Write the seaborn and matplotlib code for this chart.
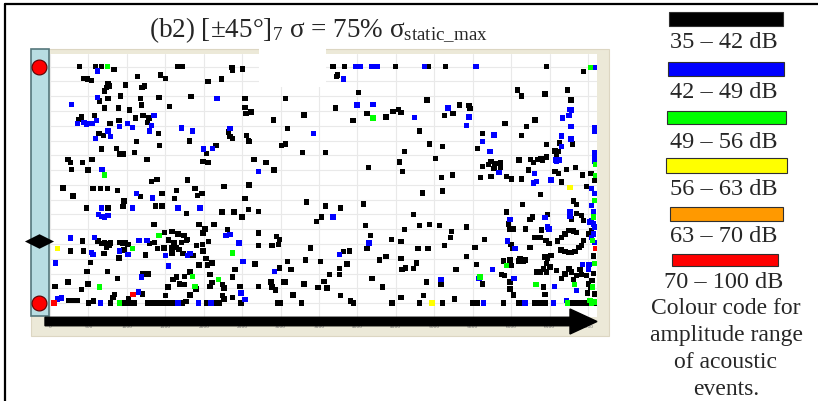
import matplotlib
matplotlib.use("Agg")
import matplotlib.pyplot as plt
import matplotlib.patches as mpatches
import matplotlib.transforms as mtransforms
from matplotlib.lines import Line2D
from matplotlib.path import Path
import numpy as np
import pandas as pd
import seaborn as sns

# acoustic events: (time in s, location in mm between the two sensors)
events_35_42 = [
    (386, 80.0), (589, 80.0), (667, 80.0), (832, 79.0), (1655, 80.0), (1716, 80.0), (442, 76.0), (485, 75.8),
    (537, 75.4), (754, 74.3), (732, 73.0), (776, 73.5), (711, 71.8), (1135, 76.6), (1439, 77.2), (1499, 76.1),
    (984, 73.8), (1231, 73.5), (1196, 73.0), (919, 70.1), (754, 69.2), (646, 68.4), (1179, 69.2), (1417, 69.6),
    (711, 66.0), (893, 66.0), (1036, 65.3), (1187, 67.0), (1556, 66.5), (581, 63.4), (407, 63.0), (373, 62.2),
    (1109, 62.6), (1209, 63.4), (1287, 62.6), (780, 60.8), (897, 61.7), (1265, 61.1), (1413, 57.4), (637, 57.4),
    (698, 56.8), (1122, 54.6), (667, 52.1), (862, 52.3), (906, 50.4), (949, 50.4), (1101, 50.9), (1426, 53.4),
    (1261, 48.7), (234, 48.7), (269, 47.6), (420, 47.6), (546, 48.7), (277, 45.3), (494, 45.0), (1317, 41.1),
    (1391, 41.8),
    (2366, 79.7), (2375, 78.9), (2505, 79.2), (2058, 74.9), (2232, 75.8), (1833, 69.9), (2539, 69.2), (3068, 69.2),
    (2539, 66.2), (2548, 64.2), (2617, 64.7), (2908, 62.0), (3306, 63.6), (1811, 54.9), (2323, 57.9), (2344, 56.3),
    (2375, 55.7), (2557, 56.8), (2583, 54.9), (2591, 54.6), (3090, 59.1), (2158, 53.4), (2037, 50.7), (3016, 53.4),
    (3068, 53.8), (3285, 50.9), (1993, 47.9), (2058, 47.6), (2656, 48.7), (2808, 47.6), (2916, 45.1), (1790, 41.7),
    (2591, 40.0), (2266, 39.5),
    (3683, 80.0), (3831, 80.0), (4494, 80.0), (4927, 80.0), (5144, 80.0), (3727, 76.6), (3744, 77.2), (4017, 71.3),
    (3714, 66.0), (4125, 64.2), (3943, 61.7), (4372, 63.0), (4463, 64.8), (4537, 65.6), (4567, 64.5), (4905, 68.7),
    (5326, 67.0), (5131, 63.4), (5243, 64.2), (4806, 58.2), (3584, 50.9), (4615, 51.3), (4940, 53.8), (5109, 53.0),
    (5014, 49.0), (4550, 47.8), (4143, 45.8), (4589, 44.5), (5092, 42.5), (5239, 43.3),
    (6461, 80.0), (6938, 78.4), (6084, 72.1), (6136, 70.1), (6439, 70.7), (6734, 72.1), (6777, 68.7), (5451, 66.8),
    (5464, 65.9), (5919, 60.8), (6309, 62.0), (6201, 59.7), (5625, 57.4), (6136, 56.8), (5560, 52.4), (6461, 53.6),
    (6626, 54.2), (6799, 53.8), (6569, 51.5), (6613, 51.3), (6591, 50.2), (5625, 46.2), (5703, 47.0), (5737, 47.9),
    (5789, 47.3), (5863, 47.6), (5863, 46.1), (5776, 45.5), (6101, 48.4), (6253, 48.7), (6288, 47.6), (6344, 48.6),
    (6387, 49.0), (6409, 48.4), (6461, 49.5), (6223, 45.1), (5603, 42.5), (5737, 42.9), (5941, 42.9), (6006, 42.0),
    (6136, 42.0), (6569, 44.5), (6613, 43.9), (6721, 45.3), (6838, 45.9), (6925, 43.4), (7037, 43.9), (6656, 41.0),
    (6981, 39.5), (7089, 41.4),
    (169, 39.0), (559, 38.7), (659, 38.7), (745, 38.7), (875, 38.1), (1179, 36.1), (1456, 37.0), (1642, 38.1),
    (1621, 35.3), (299, 36.2), (962, 34.5), (949, 32.7), (1369, 32.8), (1456, 32.8), (1772, 30.4), (472, 32.2),
    (754, 32.2), (1352, 26.5), (1491, 23.8), (1586, 24.2), (1664, 23.4), (1742, 22.9), (420, 21.0), (624, 21.0),
    (676, 20.1), (711, 20.3), (745, 20.1), (789, 20.3), (732, 18.9), (776, 19.5), (906, 20.6), (949, 20.3),
    (984, 20.3), (1014, 19.8), (1296, 20.1), (1361, 20.6), (1395, 18.4), (1482, 18.6), (1543, 21.4), (1612, 20.3),
    (1707, 20.6), (1772, 21.4), (1586, 18.9), (1642, 18.9), (269, 17.6), (438, 17.6), (702, 16.7), (962, 18.0),
    (897, 15.3), (1239, 16.3), (1586, 17.0), (1677, 18.1), (1729, 16.7), (1785, 16.1), (529, 13.7), (481, 10.8),
    (745, 10.7), (875, 8.4), (1209, 9.9), (1274, 9.9), (1599, 8.0), (1642, 8.8), (1751, 9.1), (65, 5.7),
    (234, 7.1), (494, 6.5), (407, 4.6), (1534, 5.4), (1686, 6.5), (1751, 6.3), (1499, 2.5), (1200, 3.1),
    (819, 2.0), (841, 2.9), (243, 0.9), (299, 0.9), (355, 0.9), (503, 0.0), (568, 0.7), (789, 0.0),
    (962, 0.0), (1005, 0.0), (1049, 0.0), (1101, 0.0), (1265, 0.0), (1309, 0.0), (1352, 0.0), (1426, 0.0),
    (1469, 0.0), (1512, 0.0), (1556, 0.0), (1599, 0.0), (1716, 0.0), (1023, 1.4),
    (1889, 38.7), (1920, 36.4), (1976, 37.0), (2539, 35.5), (3337, 34.2), (2236, 30.8), (2396, 30.8), (2583, 31.6),
    (2713, 31.1), (2496, 29.1), (3536, 29.1), (3471, 27.7), (1941, 26.6), (2019, 25.1), (1993, 23.7), (2136, 26.5),
    (2310, 24.9), (2713, 23.7), (2947, 22.5), (2990, 21.5), (3393, 18.6), (1790, 21.5), (2063, 20.9), (1907, 19.5),
    (1985, 19.8), (2713, 19.5), (2886, 19.5), (2973, 19.8), (1993, 17.6), (1863, 16.1), (2028, 15.0), (1941, 12.9),
    (2050, 12.9), (2106, 13.6), (2669, 13.2), (3090, 14.1), (3328, 14.6), (3523, 14.1), (2409, 11.3), (2990, 11.9),
    (3137, 11.3), (1820, 10.5), (2080, 9.6), (2375, 8.8), (2080, 5.7), (2106, 6.9), (2245, 6.3), (2266, 5.1),
    (2470, 5.7), (1898, 4.8), (2713, 5.7), (2873, 7.1), (2886, 5.4), (2938, 4.5), (3046, 7.1), (3068, 7.1),
    (3306, 6.5), (3488, 5.2), (3566, 7.3), (1820, 2.8), (2245, 2.6), (2266, 1.4), (2375, 2.0), (3163, 2.8),
    (1768, 0.5), (2037, 0.0), (2063, 0.0), (2149, 0.0), (2201, 0.0), (2483, 0.0), (2960, 0.0), (3003, 0.0),
    (3272, 0.0),
    (4849, 37.3), (5109, 37.9), (4082, 33.6), (3584, 32.8), (3779, 32.2), (4732, 29.9), (4104, 26.3), (4615, 24.9),
    (4806, 26.3), (4940, 26.6), (5066, 26.3), (5222, 24.2), (5209, 22.3), (4169, 22.9), (4442, 21.5), (4567, 20.9),
    (4125, 18.4), (4788, 18.4), (4918, 18.4), (5135, 19.5), (3822, 17.5), (3900, 17.6), (4372, 15.8), (4290, 14.6),
    (4567, 15.0), (4767, 13.6), (3766, 11.8), (3865, 13.2), (4580, 11.3), (4628, 11.9), (4732, 11.8), (5282, 11.3),
    (3640, 9.6), (3766, 9.6), (4190, 8.4), (4897, 7.1), (5087, 6.5), (3605, 5.1), (4329, 5.4), (3779, 2.5),
    (4567, 2.0), (4862, 2.5), (5265, 1.4), (3909, 0.7), (3952, 0.0), (4450, 0.0), (4806, 0.0), (5109, 0.0),
    (6383, 36.8), (6149, 33.4), (6808, 34.5), (6851, 33.4), (6851, 30.4), (6786, 28.5), (6916, 29.7), (6938, 28.0),
    (5941, 30.8), (5963, 26.8), (5984, 25.1), (6028, 25.1), (6279, 29.1), (6244, 28.2), (6470, 30.0), (6188, 25.1),
    (6396, 24.8), (5421, 25.7), (5651, 21.5), (5997, 19.8), (6015, 18.4), (5529, 18.9), (5421, 15.8), (6244, 18.9),
    (6301, 22.3), (6374, 22.3), (6452, 21.2), (6491, 20.1), (6604, 21.0), (6656, 22.3), (6699, 23.4), (6743, 24.6),
    (6808, 24.4), (6851, 23.8), (6647, 18.0), (6699, 17.5), (6743, 17.2), (6786, 17.2), (6829, 17.5), (6881, 18.9),
    (6916, 19.5), (6938, 21.2), (7003, 23.4), (7046, 24.6), (5898, 14.2), (5984, 14.6), (6006, 12.7), (6114, 15.0),
    (6158, 14.2), (6093, 14.2), (6179, 14.6), (5551, 13.1), (5876, 9.7), (5911, 9.3), (5629, 6.5), (5984, 7.1),
    (5984, 4.8), (6028, 2.8), (6331, 10.5), (6374, 10.5), (6418, 11.6), (6461, 10.5), (6504, 12.2), (6474, 15.0),
    (6517, 16.1), (6439, 15.6), (6461, 13.5), (6591, 11.0), (6656, 8.4), (6699, 9.9), (6439, 2.9), (6418, 5.4),
    (6751, 11.6), (6786, 10.5), (6808, 8.0), (6851, 9.3), (6894, 11.3), (6916, 9.7), (6981, 9.3), (7003, 6.5),
    (7037, 5.4), (6994, 3.4), (7068, 16.0), (7068, 10.0), (7054, 7.6), (7089, 3.1), (5495, 0.0), (5564, 0.0),
    (5898, 0.0), (6093, 0.0), (6136, 0.0), (6301, 0.0), (6344, 0.0), (6396, 0.0), (6439, 0.0), (6786, 0.0),
    (6829, 0.0), (6894, 0.0), (6951, 0.0), (7003, 0.0), (7089, 0.0),
]
events_42_49 = [
    (615, 78.6), (615, 69.6), (277, 67.3), (1352, 63.4), (355, 60.8), (442, 61.1), (472, 60.6), (546, 60.8),
    (602, 61.7), (906, 59.7), (1005, 60.8), (1070, 59.4), (1317, 60.2), (1296, 58.2), (1707, 59.2), (754, 58.2),
    (784, 56.3), (594, 55.7), (676, 45.3),
    (2171, 69.2), (1855, 58.2), (2344, 59.1), (3432, 57.5), (2115, 52.4), (1998, 52.1), (2713, 44.5),
    (3974, 80.0), (4039, 80.0), (4190, 80.0), (4255, 80.0), (4875, 80.0), (3822, 75.8), (3995, 67.0), (4203, 67.3),
    (4745, 62.8), (5178, 66.0),
    (5542, 80.0), (7089, 79.7), (5451, 63.0), (5421, 60.0), (6665, 62.6), (6764, 65.6), (6786, 65.4), (6751, 63.4),
    (6777, 59.7), (7089, 59.4), (7089, 58.1), (5776, 56.9), (6656, 56.5), (6777, 55.5), (5625, 54.6), (5724, 51.3),
    (6656, 52.9), (6582, 48.4), (6621, 48.4), (6591, 47.9), (6301, 43.9), (5841, 44.2), (6517, 41.7), (6331, 41.1),
    (6288, 40.6), (7089, 51.0), (7089, 49.8), (7089, 48.1),
    (1122, 37.0), (1330, 35.6), (1070, 32.2), (1664, 32.2), (667, 32.2), (633, 30.0), (676, 29.4), (711, 29.1),
    (754, 29.7), (264, 22.0), (581, 22.3), (1157, 21.2), (1261, 21.2), (537, 17.2), (559, 16.4), (906, 17.6),
    (1014, 16.4), (1499, 16.1), (69, 13.6), (1543, 12.5), (1187, 8.8), (1153, 3.7), (95, 1.4), (147, 1.7),
    (654, 0.0), (1664, 0.0),
    (1950, 32.2), (2288, 22.9), (2344, 23.2), (2461, 20.4), (1820, 16.7), (1790, 16.1), (2513, 14.1), (2925, 10.7),
    (2483, 3.4), (2539, 1.2), (1933, 0.0), (2093, 0.0),
    (3683, 29.1), (4151, 20.4), (3770, 16.4), (5087, 7.9),
    (6764, 30.8), (6764, 29.3), (5984, 28.3), (6439, 28.9), (6474, 25.7), (6491, 25.1), (5954, 21.0), (6049, 18.4),
    (7024, 27.4), (7068, 26.8), (7046, 22.3), (5755, 11.3), (6036, 8.4), (5581, 8.4), (6561, 5.7), (6925, 13.0),
    (7011, 13.1), (7003, 11.6), (6851, 4.3), (7046, 38.7), (7089, 37.0), (7046, 33.0), (7068, 30.8), (7046, 28.0),
    (7089, 25.7), (7068, 23.4), (7089, 20.6), (5638, 0.0), (6179, 0.0), (6548, 0.0), (6721, 0.9),
]
events_49_56 = [
    (745, 80.0), (711, 43.3), (4203, 62.6), (7033, 79.7), (7098, 47.0), (7098, 43.1), (1417, 22.9), (1070, 18.4),
    (646, 5.4), (906, 0.0), (2375, 17.0), (1855, 9.0), (2193, 7.9), (1889, 5.7), (7059, 21.2), (5941, 12.7),
    (5594, 8.8), (6322, 6.3), (6821, 6.3), (7081, 34.7), (7068, 29.1), (7089, 13.3), (7059, 5.4), (7081, 0.4),
    (6734, 0.0), (7024, 0.9), (7046, 0.0),
]
events_56_63 = [(95, 18.4), (4970, 0.0), (6764, 39.2)]
events_63_70 = []
events_70_100 = [(52, 0.0), (1079, 2.9), (7098, 18.4)]

band_labels = ["35 – 42 dB", "42 – 49 dB", "49 – 56 dB", "56 – 63 dB", "63 – 70 dB", "70 – 100 dB"]
band_colours = ["#000000", "#0000FF", "#00FF00", "#FFFF00", "#FF9900", "#FF0000"]
band_events = [events_35_42, events_42_49, events_49_56, events_56_63, events_63_70, events_70_100]

sensor_mm = [0, 80]
marker_mm = 21
time_ticks = np.arange(0, 7001, 500)
loc_grid = np.arange(0, 81, 5)

rows = [(t, y, lab) for lab, pts in zip(band_labels, band_events) for t, y in pts]
df = pd.DataFrame(rows, columns=["time_s", "location_mm", "band"])

sns.set_style("white")
plt.rcParams["font.family"] = ["Liberation Serif", "DejaVu Serif"]
plt.rcParams["mathtext.fontset"] = "custom"
plt.rcParams["mathtext.rm"] = "Liberation Serif"
plt.rcParams["mathtext.it"] = "Liberation Serif:italic"
plt.rcParams["mathtext.default"] = "rm"

W, H = 818, 402
fig = plt.figure(figsize=(W / 100, H / 100), dpi=100)


def box(x0, y0, x1, y1):
    # figure-fraction rectangle from pixel corners (top-left origin)
    return (x0 / W, 1 - y1 / H), (x1 - x0) / W, (y1 - y0) / H


# beige window frame behind the plot
xy, w, h = box(31, 50, 609, 337)
fig.add_artist(mpatches.Rectangle(xy, w, h, transform=fig.transFigure, fc="#ECE9D8", ec="#DCD6C2", lw=0.8, zorder=0))

# sensor bar on the left
xy, w, h = box(31, 50, 49, 317)
fig.add_artist(mpatches.Rectangle(xy, w, h, transform=fig.transFigure, fc="#B8DDE2", ec="#55777C", lw=1.2, zorder=1))

ax = fig.add_axes([50 / W, 1 - 318 / H, 547 / W, 263 / H], zorder=2)
ax.set_facecolor("white")
sns.scatterplot(data=df, x="time_s", y="location_mm", hue="band", hue_order=band_labels,
                palette=dict(zip(band_labels, band_colours)), marker="s", s=15, linewidth=0,
                legend=False, ax=ax, zorder=3)
ax.set_xlim(0, 7117)
ax.set_ylim(-4.7, 84.3)
ax.set_xticks(time_ticks)
ax.set_yticks(loc_grid)
ax.grid(True, color="#E9E9E9", lw=0.8)
ax.set_axisbelow(True)
ax.tick_params(axis="y", length=0, labelleft=False)
ax.tick_params(axis="x", length=0, pad=5, labelsize=3.2, labelcolor="#707070")
for lab in ax.get_xticklabels():
    lab.set_family("DejaVu Sans")
ax.set_xlabel("")
ax.set_ylabel("")
for sp in ax.spines.values():
    sp.set_visible(False)

side = mtransforms.blended_transform_factory(ax.transAxes, ax.transData)
ax.scatter([-0.0192] * len(sensor_mm), sensor_mm, transform=side, s=115, c="#FF0000",
           edgecolors="#5A0000", linewidths=0.8, clip_on=False, zorder=6)
diamond = Path([(-1, 0), (0, 0.5), (1, 0), (0, -0.5), (-1, 0)], [1, 2, 2, 2, 79])
ax.scatter([-0.021], [marker_mm], transform=side, marker=diamond, s=440, c="black",
           linewidths=0, clip_on=False, zorder=6)

# white gap in the frame under the title
xy, w, h = box(259, 48, 326, 88)
fig.add_artist(mpatches.Rectangle(xy, w, h, transform=fig.transFigure, fc="white", ec="none", zorder=4))

# time arrow
fig.add_artist(mpatches.FancyArrow(0.45, (H - 322.5) / 100, 5.52, 0, width=0.085, head_width=0.25,
                                   head_length=0.27, length_includes_head=True, color="black",
                                   transform=fig.dpi_scale_trans, zorder=5))

fig.text(318 / W, 1 - 30 / H, r"(b2) [±45°]$_7$ σ = 75% σ$_{\rm static\_max}$",
         ha="center", va="center", fontsize=19.5)

# outer frame (left and top)
fig.add_artist(Line2D([5 / W, 5 / W], [0, 1 - 5 / H], transform=fig.transFigure, color="black", lw=1.6))
fig.add_artist(Line2D([5 / W, 1], [1 - 5 / H, 1 - 5 / H], transform=fig.transFigure, color="black", lw=1.6))

# colour code
bar_px = [(669, 13, 783, 27), (668, 63, 784, 77), (667, 112, 786, 125),
          (666, 159, 787, 174), (670, 208, 783, 222), (672, 255, 778, 267)]
label_y = [43, 93, 142, 190, 237, 283]
for (x0, y0, x1, y1), col, lab, ly in zip(bar_px, band_colours, band_labels, label_y):
    xy, w, h = box(x0, y0, x1, y1)
    fig.add_artist(mpatches.Rectangle(xy, w, h, transform=fig.transFigure, fc=col, ec="#303030", lw=0.8))
    fig.text(724 / W, 1 - ly / H, lab, ha="center", va="center", fontsize=17.5)
for txt, ly in zip(["Colour code for", "amplitude range", "of acoustic", "events."], [309, 336, 363, 390]):
    fig.text(726 / W, 1 - ly / H, txt, ha="center", va="center", fontsize=17)

fig.savefig("out.png", dpi=100)
